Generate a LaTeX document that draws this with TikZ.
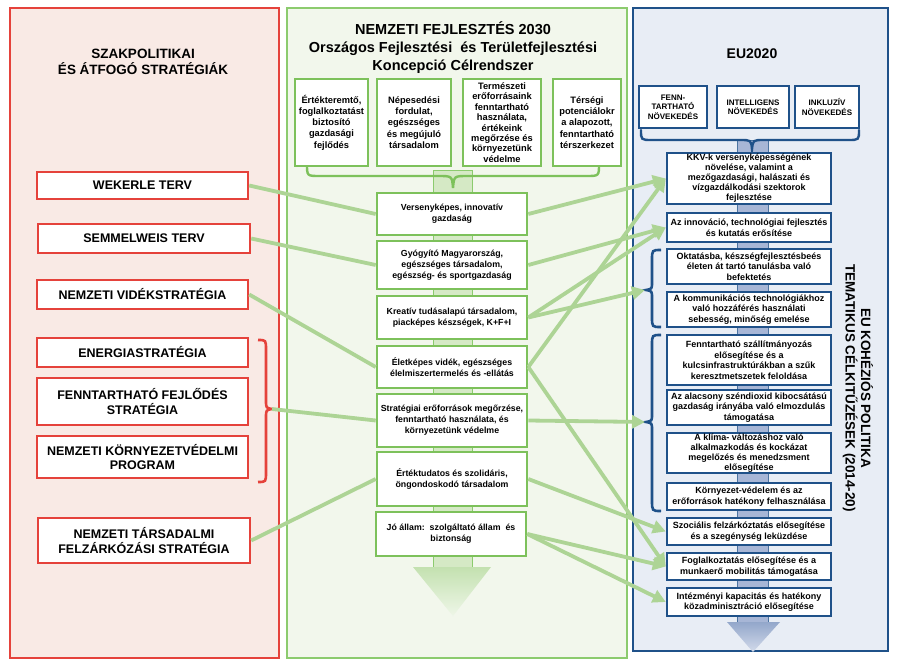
\documentclass[tikz,border=0pt]{standalone}
\usepackage{fontspec}
\setmainfont{Liberation Sans}
\usetikzlibrary{arrows.meta}
\definecolor{redc}{HTML}{E5423B}
\definecolor{pinkbg}{HTML}{F9EAE5}
\definecolor{greenc}{HTML}{7DC15B}
\definecolor{greenpan}{HTML}{8CCB6E}
\definecolor{greenbg}{HTML}{F2F7EC}
\definecolor{connc}{HTML}{ADD495}
\definecolor{gshaft}{HTML}{D5E9C5}
\definecolor{bluec}{HTML}{1F5189}
\definecolor{bluebg}{HTML}{E8EDF5}
\definecolor{bshaft}{HTML}{A7B6D6}
\begin{document}
\begin{tikzpicture}[x=1pt,y=-1pt,
  lbox/.style={draw=redc, line width=2.4pt, fill=white, inner sep=0pt, align=center, font=\fontsize{12.5}{14.5}\selectfont\bfseries},
  mbox/.style={draw=greenc, line width=2.6pt, fill=white, inner sep=0pt, align=center, font=\fontsize{8.8}{11}\selectfont\bfseries, minimum width=150pt},
  tbox/.style={draw=greenc, line width=2.6pt, fill=white, inner sep=0pt, align=center, font=\fontsize{9.3}{11.3}\selectfont\bfseries, minimum height=87pt},
  rbox/.style={draw=bluec, line width=2.4pt, fill=white, inner sep=0pt, align=center, font=\fontsize{9}{10.5}\selectfont\bfseries, minimum width=164pt},
  ebox/.style={draw=bluec, line width=2.4pt, fill=white, inner sep=0pt, align=center, font=\fontsize{8}{9.5}\selectfont\bfseries, minimum height=42pt},
  ttl/.style={align=center, font=\bfseries, inner sep=0pt},
  conn/.style={draw=connc, line width=3.8pt},
  carr/.style={conn, -{Triangle[length=13pt,width=13pt]}}
]
\useasboundingbox (0,0) rectangle (900,664);
\fill[white] (0,0) rectangle (900,664);
% panels
\draw[redc, line width=1.5pt, fill=pinkbg] (10,8) rectangle (279,658);
\draw[greenpan, line width=1.5pt, fill=greenbg] (287,8) rectangle (627,658);
\draw[bluec, line width=2pt, fill=bluebg] (633,8) rectangle (888,651);
% titles
\node[ttl, font=\fontsize{13.5}{16.5}\selectfont\bfseries] (lt) at (143,62) {SZAKPOLITIKAI\\ÉS ÁTFOGÓ STRATÉGIÁK};
\node[ttl, font=\fontsize{14.5}{18}\selectfont\bfseries] (mt) at (453,48) {NEMZETI FEJLESZTÉS 2030\\Országos Fejlesztési\ \ és Területfejlesztési\\Koncepció Célrendszer};
\node[ttl, font=\fontsize{14}{16}\selectfont\bfseries] (et) at (752,54) {EU2020};
% shafts
\draw[greenpan, line width=0.8pt, fill=gshaft] (433,170) rectangle (472,567);
\shade[top color=gshaft!80!greenc, bottom color=gshaft!40] (413,567) -- (491,567) -- (453,616) -- cycle;
\draw[bluec!80, line width=0.8pt, fill=bshaft] (737,140) rectangle (768,622);
\shade[top color=bshaft!85!bluec, bottom color=bshaft!50] (727,622) -- (780,622) -- (753,652) -- cycle;
% braces
\draw[greenc, line width=2.4pt, line cap=round] (307,164) .. controls (307,176) .. (320,176) -- (438,176) .. controls (452,176) .. (453,188) .. controls (454,176) .. (468,176) -- (586,176) .. controls (599,176) .. (599,164);
\draw[bluec, line width=2.4pt, line cap=round] (641,130) .. controls (641,140) .. (652,140) -- (740,140) .. controls (751,140) .. (752,149) .. controls (753,140) .. (764,140) -- (848,140) .. controls (859,140) .. (859,130);
\draw[redc, line width=2.6pt] (258,340) .. controls (266,340) .. (266,350) -- (266,400) .. controls (266,408) .. (272,409) .. controls (266,410) .. (266,418) -- (266,472) .. controls (266,482) .. (258,482);
\coordinate (lbr) at (272,409);
\draw[bluec, line width=2.6pt] (661,250) .. controls (652,250) .. (652,260) -- (652,282) .. controls (652,289) .. (646,290) .. controls (652,291) .. (652,298) -- (652,317) .. controls (652,327) .. (661,327);
\coordinate (bb1) at (645,290);
\draw[bluec, line width=2.6pt] (661,335) .. controls (652,335) .. (652,345) -- (652,414) .. controls (652,421) .. (646,422) .. controls (652,423) .. (652,430) -- (652,500) .. controls (652,511) .. (661,511);
\coordinate (bb2) at (645,422);
% left boxes
\node[lbox, minimum width=211pt, minimum height=27pt] (W) at (142.5,185.5) {WEKERLE TERV};
\node[lbox, minimum width=212pt, minimum height=29pt] (S) at (144,238.5) {SEMMELWEIS TERV};
\node[lbox, minimum width=211pt, minimum height=29pt] (V) at (142.5,294.5) {NEMZETI VIDÉKSTRATÉGIA};
\node[lbox, minimum width=211pt, minimum height=29pt] (E) at (142.5,352.5) {ENERGIASTRATÉGIA};
\node[lbox, minimum width=211pt, minimum height=47pt] (F) at (142.5,401.5) {FENNTARTHATÓ FEJLŐDÉS\\STRATÉGIA};
\node[lbox, minimum width=211pt, minimum height=42pt] (K) at (142.5,457) {NEMZETI KÖRNYEZETVÉDELMI\\PROGRAM};
\node[lbox, minimum width=212pt, minimum height=45pt] (T) at (144,540.5) {NEMZETI TÁRSADALMI\\FELZÁRKÓZÁSI STRATÉGIA};
% top green boxes
\node[tbox, minimum width=73pt] (T1) at (331.5,122.5) {Értékteremtő,\\foglalkoztatást\\biztosító\\gazdasági\\fejlődés};
\node[tbox, minimum width=74pt] (T2) at (414,122.5) {Népesedési\\fordulat,\\egészséges\\és megújuló\\társadalom};
\node[tbox, minimum width=78pt, font=\fontsize{9.3}{10.4}\selectfont\bfseries] (T3) at (502,122.5) {Természeti\\erőforrásaink\\fenntartható\\használata,\\értékeink\\megőrzése és\\környezetünk\\védelme};
\node[tbox, minimum width=68pt] (T4) at (587,122.5) {Térségi\\potenciálokr\\a alapozott,\\fenntartható\\térszerkezet};
% middle boxes
\node[mbox, minimum height=42pt] (M1) at (452,214) {Versenyképes, innovatív\\gazdaság};
\node[mbox, minimum height=48pt] (M2) at (452,265) {Gyógyító Magyarország,\\egészséges társadalom,\\egészség- és sportgazdaság};
\node[mbox, minimum height=43pt] (M3) at (452,317.5) {Kreatív tudásalapú társadalom,\\piacképes készségek, K+F+I};
\node[mbox, minimum height=42pt] (M4) at (452,367) {Életképes vidék, egészséges\\élelmiszertermelés és -ellátás};
\node[mbox, minimum height=53pt] (M5) at (452,420.5) {Stratégiai erőforrások megőrzése,\\fenntartható használata, és\\környezetünk védelme};
\node[mbox, minimum height=54pt] (M6) at (452,479) {Értéktudatos és szolidáris,\\öngondoskodó társadalom};
\node[mbox, minimum height=44pt] (M7) at (451,534) {Jó állam:\ \ szolgáltató állam\ \ és\\biztonság};
% EU top boxes
\node[ebox, minimum width=68pt] (B1) at (673,107) {FENN-\\TARTHATÓ\\NÖVEKEDÉS};
\node[ebox, minimum width=72pt] (B2) at (753,107) {INTELLIGENS\\NÖVEKEDÉS};
\node[ebox, minimum width=64pt] (B3) at (827,107) {INKLUZÍV\\NÖVEKEDÉS};
% right boxes
\node[rbox, minimum height=51pt, font=\fontsize{9}{10}\selectfont\bfseries] (R1) at (749,178.5) {KKV-k versenyképességének\\növelése, valamint a\\mezőgazdasági, halászati és\\vízgazdálkodási szektorok\\fejlesztése};
\node[rbox, minimum height=29pt] (R2) at (749,227.5) {Az innováció, technológiai fejlesztés\\és kutatás erősítése};
\node[rbox, minimum height=35pt] (R3) at (749,266.5) {Oktatásba, készségfejlesztésbeés\\életen át tartó tanulásba való\\befektetés};
\node[rbox, minimum height=35pt] (R4) at (749,309.5) {A kommunikációs technológiákhoz\\való hozzáférés használati\\sebesség, minőség emelése};
\node[rbox, minimum height=50pt] (R5) at (749,360) {Fenntartható szállítmányozás\\elősegítése és a\\kulcsinfrastruktúrákban a szűk\\keresztmetszetek feloldása};
\node[rbox, minimum height=35pt] (R6) at (749,407.5) {Az alacsony széndioxid kibocsátású\\gazdaság irányába való elmozdulás\\támogatása};
\node[rbox, minimum height=40pt, font=\fontsize{9}{10}\selectfont\bfseries] (R7) at (749,453) {A klíma- változáshoz való\\alkalmazkodás és kockázat\\megelőzés és menedzsment\\elősegítése};
\node[rbox, minimum height=27pt] (R8) at (749,496.5) {Környezet-védelem és az\\erőforrások hatékony felhasználása};
\node[rbox, minimum height=27pt] (R9) at (749,531.5) {Szociális felzárkóztatás elősegítése\\és a szegénység leküzdése};
\node[rbox, minimum height=27pt] (R10) at (749,566.5) {Foglalkoztatás elősegítése és a\\munkaerő mobilitás támogatása};
\node[rbox, minimum height=28pt] (R11) at (749,602) {Intézményi kapacitás és hatékony\\közadminisztráció elősegítése};
% vertical title
\node[ttl, rotate=-90, font=\fontsize{13.5}{15.5}\selectfont\bfseries] (vt) at (858,388) {EU KOHÉZIÓS POLITIKA\\TEMATIKUS CÉLKITŰZÉSEK (2014-20)};
% connectors left -> middle
\draw[conn] (W.east) -- (M1.west);
\draw[conn] (S.east) -- (M2.west);
\draw[conn] (V.east) -- (M4.west);
\draw[conn] (lbr) -- (M5.west);
\draw[conn] (T.east) -- (M6.west);
% connectors middle -> right
\draw[carr] (M1.east) -- (R1.west);
\draw[carr] (M2.east) -- (R2.west);
\draw[carr] (M3.east) -- (R2.west);
\draw[carr] (M3.east) -- (bb1);
\draw[carr] (M4.east) -- (R1.west);
\draw[carr] (M4.east) -- (R10.west);
\draw[carr] (M5.east) -- (bb2);
\draw[carr] (M6.east) -- (R9.west);
\draw[carr] (M7.east) -- (R10.west);
\draw[carr] (M7.east) -- (R11.west);
\end{tikzpicture}
\end{document}
